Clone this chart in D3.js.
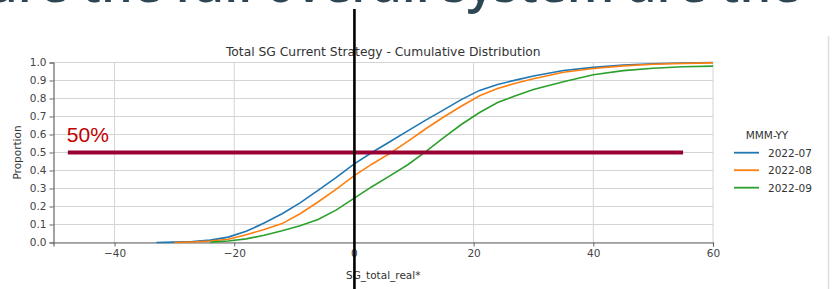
<!DOCTYPE html>
<html>
<head>
<meta charset="utf-8">
<script src="https://d3js.org/d3.v7.min.js"></script>
<style>
  body { margin: 0; background: #fff; }
  svg text { font-family: "DejaVu Sans", sans-serif; }
</style>
</head>
<body>
<div id="chart"></div>
<script>
// values
var xValues = [-33, -30, -27, -24, -21, -18, -15, -12, -9, -6, -3, 0, 3, 6, 9, 12, 15, 18, 21, 24, 27, 30, 35, 40, 45, 50, 55, 60];
var jul = [0.000, 0.002, 0.005, 0.013, 0.030, 0.062, 0.108, 0.160, 0.220, 0.290, 0.360, 0.435, 0.500, 0.560, 0.620, 0.680, 0.737, 0.795, 0.845, 0.878, 0.902, 0.925, 0.956, 0.973, 0.986, 0.993, 0.997, 1.000];
var aug = [null, 0.000, 0.003, 0.008, 0.018, 0.043, 0.072, 0.105, 0.160, 0.225, 0.295, 0.370, 0.435, 0.495, 0.562, 0.632, 0.697, 0.758, 0.815, 0.855, 0.885, 0.910, 0.946, 0.967, 0.981, 0.990, 0.995, 0.998];
var sep = [null, null, null, 0.002, 0.008, 0.020, 0.040, 0.065, 0.093, 0.128, 0.180, 0.245, 0.310, 0.370, 0.432, 0.505, 0.582, 0.657, 0.722, 0.778, 0.815, 0.850, 0.893, 0.932, 0.955, 0.968, 0.976, 0.980];
var seriesNames = ["2022-07", "2022-08", "2022-09"];
var xTicks = [-40, -20, 0, 20, 40, 60];
var yTicks = [0, 0.1, 0.2, 0.3, 0.4, 0.5, 0.6, 0.7, 0.8, 0.9, 1.0];
var halfLine = {from: -47.8, to: 55, level: 0.5, label: "50%"};

var W = 832, H = 289;
var margin = {top: 62.5, right: 119, bottom: 46.5, left: 53.5},
    width = W - margin.left - margin.right,
    height = H - margin.top - margin.bottom;

var svg = d3.select("#chart").append("svg")
    .attr("width", W).attr("height", H);

// bits of the slide behind the chart
svg.append("text")
    .attr("x", -14).attr("y", 2)
    .style("font-family", "'Open Sans', sans-serif")
    .style("font-size", "50px").style("font-weight", "600")
    .attr("fill", "#2e4654")
    .text("ure the full overall system are the");
svg.append("line")
    .attr("x1", 828.5).attr("x2", 828.5).attr("y1", 36).attr("y2", H)
    .attr("stroke", "#dcdcdc").attr("stroke-width", 1.5);

var g = svg.append("g")
    .attr("transform", "translate(" + margin.left + "," + margin.top + ")");

var x = d3.scaleLinear().domain([-50.2, 60]).range([0, width]);
var y = d3.scaleLinear().domain([0, 1]).range([height, 0]);
var color = d3.scaleOrdinal().domain(seriesNames).range(["#1f77b4", "#ff7f0e", "#2ca02c"]);

// grid
g.selectAll(".hgrid").data(yTicks).enter().append("line")
    .attr("x1", 0).attr("x2", width)
    .attr("y1", function(d) { return y(d); }).attr("y2", function(d) { return y(d); })
    .attr("stroke", "#d4d4d4").attr("stroke-width", 1);
g.selectAll(".vgrid").data(xTicks).enter().append("line")
    .attr("y1", 0).attr("y2", height)
    .attr("x1", function(d) { return x(d); }).attr("x2", function(d) { return x(d); })
    .attr("stroke", "#d4d4d4").attr("stroke-width", 1);

// axes
var xAxis = g.append("g")
    .attr("transform", "translate(0," + height + ")")
    .call(d3.axisBottom(x).tickValues(xTicks).tickSize(4).tickPadding(3)
      .tickFormat(function(d) { return d < 0 ? "\u2212" + Math.abs(d) : d; }));
var yAxis = g.append("g")
    .call(d3.axisLeft(y).tickValues(yTicks).tickSize(4).tickPadding(3).tickFormat(d3.format(".1f")));
[xAxis, yAxis].forEach(function(a) {
  a.select(".domain").attr("stroke", "#666").attr("stroke-width", 1.2);
  a.selectAll(".tick line").attr("stroke", "#666");
  a.selectAll(".tick text").attr("fill", "#444").style("font-size", "10.5px")
    .style("font-family", "'DejaVu Sans', sans-serif");
});

// title and axis labels
g.append("text")
    .attr("x", width / 2).attr("y", -7)
    .attr("text-anchor", "middle")
    .attr("fill", "#333").style("font-size", "12.3px")
    .text("Total SG Current Strategy - Cumulative Distribution");
g.append("text")
    .attr("x", width / 2).attr("y", height + 36)
    .attr("text-anchor", "middle")
    .attr("fill", "#333").style("font-size", "10.5px")
    .text("SG_total_real*");
g.append("text")
    .attr("transform", "translate(-33," + (height / 2) + ") rotate(-90)")
    .attr("text-anchor", "middle")
    .attr("fill", "#333").style("font-size", "10.5px")
    .text("Proportion");

// curves
var seriesData = [jul, aug, sep].map(function(vals, i) {
  return {
    name: seriesNames[i],
    values: xValues.map(function(xv, j) { return {x: xv, y: vals[j]}; })
  };
});
var line = d3.line()
    .defined(function(d) { return d.y !== null; })
    .x(function(d) { return x(d.x); })
    .y(function(d) { return y(d.y); });
g.selectAll(".curve").data(seriesData).enter().append("path")
    .attr("d", function(d) { return line(d.values); })
    .attr("fill", "none")
    .attr("stroke", function(d) { return color(d.name); })
    .attr("stroke-width", 1.6);

// 50% marker
g.append("line")
    .attr("x1", x(halfLine.from)).attr("x2", x(halfLine.to))
    .attr("y1", y(halfLine.level)).attr("y2", y(halfLine.level) )
    .attr("stroke", "#990033").attr("stroke-width", 4);
g.append("text")
    .attr("x", x(halfLine.from) - 1).attr("y", y(halfLine.level) - 11)
    .attr("fill", "#c00000")
    .style("font-family", "'Liberation Sans', Arial, sans-serif")
    .style("font-size", "21px")
    .text(halfLine.label);

// vertical black line at zero
svg.append("line")
    .attr("x1", margin.left + x(0) + 0.5).attr("x2", margin.left + x(0) + 0.5)
    .attr("y1", 9).attr("y2", H)
    .attr("stroke", "#000").attr("stroke-width", 2.6);

// legend
var lg = svg.append("g").attr("transform", "translate(734,0)");
lg.append("text")
    .attr("x", 33).attr("y", 139)
    .attr("text-anchor", "middle")
    .attr("fill", "#333").style("font-size", "10.5px")
    .text("MMM-YY");
var items = lg.selectAll(".item").data(seriesNames).enter().append("g")
    .attr("transform", function(d, i) { return "translate(0," + (152.7 + i * 17.5) + ")"; });
items.append("line")
    .attr("x1", 0).attr("x2", 25)
    .attr("stroke", function(d) { return color(d); }).attr("stroke-width", 1.8);
items.append("text")
    .attr("x", 34).attr("y", 4)
    .attr("fill", "#333").style("font-size", "10.5px")
    .text(function(d) { return d; });
</script>
</body>
</html>
